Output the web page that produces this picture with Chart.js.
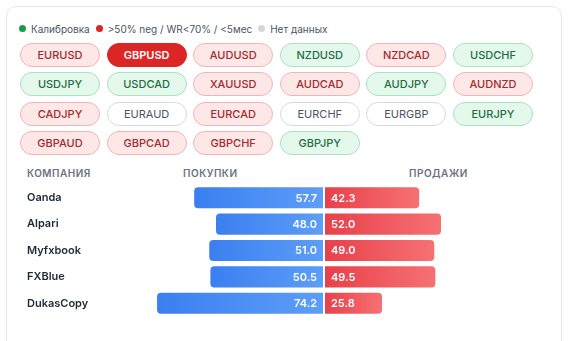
<!DOCTYPE html>
<html><head><meta charset="utf-8">
<script src="https://cdn.jsdelivr.net/npm/chart.js@4.4.1/dist/chart.umd.min.js"></script>
<style>
html,body{margin:0;padding:0;background:#fff;width:570px;height:341px;overflow:hidden;font-family:Inter,"Noto Sans",sans-serif;}
.card{position:absolute;left:6px;top:6px;width:556px;height:360px;border:1px solid #e5e7eb;border-radius:10px;background:#fff;box-sizing:border-box;}
.legend{position:absolute;left:19px;top:22px;height:13px;display:flex;align-items:center;font-size:10px;color:#4b5563;white-space:nowrap;}
.legend .dot{width:7px;height:7px;border-radius:50%;display:inline-block;margin-right:5px;}
.legend .item{display:flex;align-items:center;margin-right:6px;}
.grid{position:absolute;left:20px;top:43px;display:grid;grid-template-columns:repeat(6,80px);column-gap:6.6px;row-gap:5.3px;}
.btn{height:24px;box-sizing:border-box;border-radius:12px;border:1px solid;display:flex;align-items:center;justify-content:center;font-size:11px;font-weight:500;}
.neg{background:#fde7e7;border-color:#f4b4b4;color:#a52a2a;}
.pos{background:#e4f8ec;border-color:#a8e2c0;color:#1f6e43;}
.none{background:#fff;border-color:#d6dae0;color:#4b5563;font-weight:400;}
.act{background:#dc2626;border-color:#dc2626;color:#fff;font-weight:600;}
.hdr{position:absolute;top:167px;font-size:10px;font-weight:600;color:#6b7280;letter-spacing:0.5px;}
#c{position:absolute;left:0;top:178px;}
</style></head>
<body>
<div class="card"></div>
<div class="legend" id="legend"></div>
<div class="grid" id="grid"></div>
<div class="hdr" id="h0" style="left:27px"></div>
<div class="hdr" id="h1" style="left:183px"></div>
<div class="hdr" id="h2" style="left:409px"></div>
<canvas id="c" width="570" height="145"></canvas>
<script>
const legendLabels = ["Калибровка", ">50% neg / WR<70% / <5мес", "Нет данных"];
const legendColors = ["#1a9a4b", "#dc2626", "#d4d8de"];
const pairs = ["EURUSD","GBPUSD","AUDUSD","NZDUSD","NZDCAD","USDCHF",
  "USDJPY","USDCAD","XAUUSD","AUDCAD","AUDJPY","AUDNZD",
  "CADJPY","EURAUD","EURCAD","EURCHF","EURGBP","EURJPY",
  "GBPAUD","GBPCAD","GBPCHF","GBPJPY"];
const pairStatus = ["neg","act","neg","pos","neg","pos",
  "pos","pos","neg","neg","pos","neg",
  "neg","none","neg","none","none","pos",
  "neg","neg","neg","pos"];
const headers = ["КОМПАНИЯ","ПОКУПКИ","ПРОДАЖИ"];
const companies = ["Oanda","Alpari","Myfxbook","FXBlue","DukasCopy"];
const buys = [57.7, 48.0, 51.0, 50.5, 74.2];
const sells = [42.3, 52.0, 49.0, 49.5, 25.8];

const lg = document.getElementById('legend');
legendLabels.forEach((t,i)=>{
  const it=document.createElement('span');it.className='item';
  const d=document.createElement('span');d.className='dot';d.style.background=legendColors[i];
  it.appendChild(d);it.appendChild(document.createTextNode(t));lg.appendChild(it);
});
const g=document.getElementById('grid');
pairs.forEach((p,i)=>{const b=document.createElement('div');b.className='btn '+pairStatus[i];b.textContent=p;g.appendChild(b);});
headers.forEach((h,i)=>document.getElementById('h'+i).textContent=h);

function grad(ctx, dark, light){
  const chart=ctx.chart; const sx=chart.scales.x;
  if(!sx || !chart.chartArea) return dark;
  const v=ctx.raw; const p0=sx.getPixelForValue(0), p1=sx.getPixelForValue(v);
  if(!isFinite(p0)||!isFinite(p1)) return dark;
  const gr=chart.ctx.createLinearGradient(Math.min(p0,p1),0,Math.max(p0,p1),0);
  gr.addColorStop(0,dark);gr.addColorStop(1,light);return gr;
}
const labelPlugin={id:'vals',afterDatasetsDraw(chart){
  const c=chart.ctx; const sx=chart.scales.x; const cx=sx.getPixelForValue(0);
  c.save();
  c.fillStyle='#ffffff';
  c.fillRect(cx-1,chart.chartArea.top,2,chart.chartArea.bottom-chart.chartArea.top);
  c.font='600 11px Inter, "Noto Sans", sans-serif';c.textBaseline='middle';c.fillStyle='#fff';
  chart.getDatasetMeta(0).data.forEach((el,i)=>{c.textAlign='right';c.fillText(buys[i].toFixed(1),cx-7,el.y+0.5);});
  chart.getDatasetMeta(1).data.forEach((el,i)=>{c.textAlign='left';c.fillText(sells[i].toFixed(1),cx+7,el.y+0.5);});
  c.restore();
}};
new Chart(document.getElementById('c'),{
  type:'bar',
  data:{labels:companies,datasets:[
    {label:'ПОКУПКИ',data:buys.map(v=>-v),backgroundColor:ctx=>grad(ctx,'#3b7ff0','#5d9ef7'),
     borderSkipped:false,borderRadius:{topLeft:4,bottomLeft:4,topRight:1,bottomRight:1}},
    {label:'ПРОДАЖИ',data:sells,backgroundColor:ctx=>grad(ctx,'#e8404a','#f67173'),
     borderSkipped:false,borderRadius:{topLeft:1,bottomLeft:1,topRight:4,bottomRight:4}}
  ]},
  options:{
    indexAxis:'y',responsive:false,animation:false,devicePixelRatio:1,
    layout:{padding:{left:27,right:21,top:0,bottom:0}},
    plugins:{legend:{display:false},tooltip:{enabled:false}},
    datasets:{bar:{categoryPercentage:1,barPercentage:0.8}},
    scales:{
      x:{stacked:true,min:-80,max:100,display:false},
      y:{stacked:true,grid:{display:false},border:{display:false},
         afterFit:s=>{s.width=117;},
         ticks:{crossAlign:'far',padding:0,color:'#1f2937',font:{family:'Inter',size:11,weight:'600'}}}
    }
  },
  plugins:[labelPlugin]
});
</script>
</body></html>
